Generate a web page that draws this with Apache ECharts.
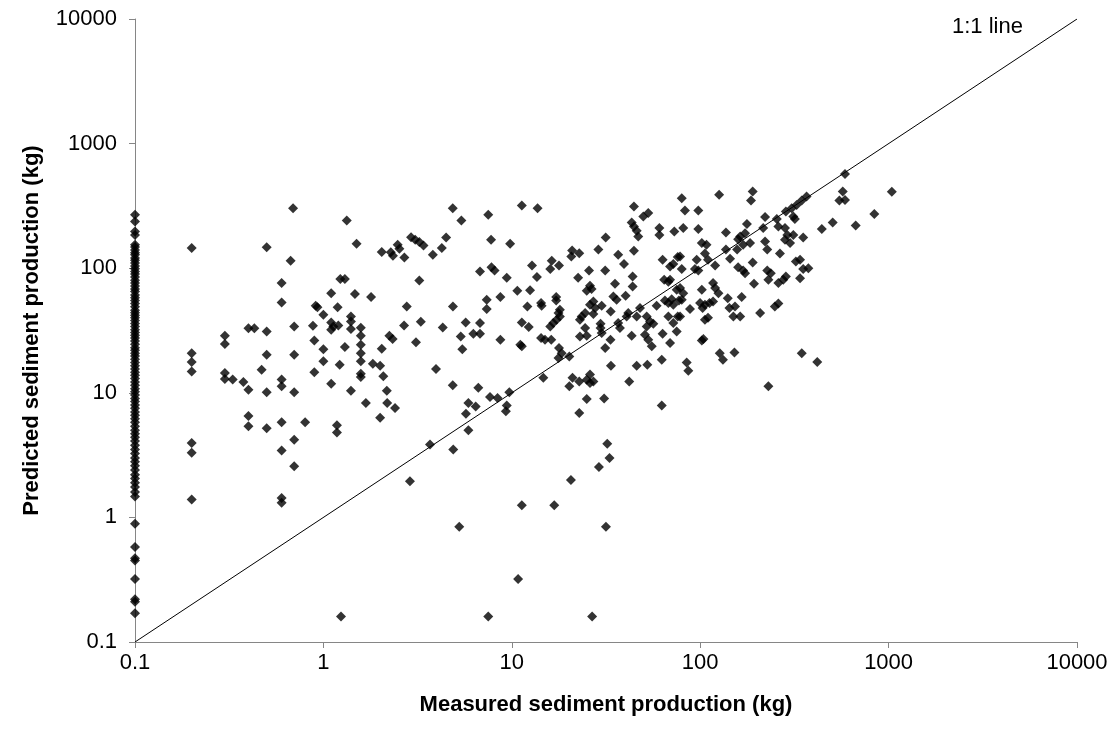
<!DOCTYPE html>
<html>
<head>
<meta charset="utf-8">
<title>Predicted vs measured sediment production</title>
<script src="https://cdn.jsdelivr.net/npm/echarts@6/dist/echarts.min.js"></script>
<style>
  html, body { margin: 0; padding: 0; background: #ffffff; }
  #chart { width: 1118px; height: 738px; }
</style>
</head>
<body>
<div id="chart"></div>
<script>
// Axis titles and decade ticks
const xTitle = 'Measured sediment production (kg)';
const yTitle = 'Predicted sediment production (kg)';
const decadeTicks = [0.1, 1, 10, 100, 1000, 10000];
const oneToOneLabel = '1:1 line';

// Plots with measured production recorded as 0.1 kg (no measurable sediment)
const zeroMeasured = 0.1;
const zeroPredicted = [268, 237, 197, 185, 154, 148, 140, 133, 128, 121, 116, 110, 104, 99, 94, 90, 85, 80,
  76, 72, 68, 65, 61, 58, 55, 52, 49, 46, 44, 42, 40, 38, 36, 34, 32, 30.5, 29, 27.5, 26, 24.5, 23, 22,
  20.8, 19.7, 18.6, 17.5, 16.5, 15.5, 14.6, 13.8, 13, 12.2, 11.5, 10.8, 10.2, 9.6, 9, 8.5, 8, 7.5, 7,
  6.6, 6.2, 5.8, 5.4, 5, 4.7, 4.4, 4.1, 3.8, 3.5, 3.25, 3, 2.8, 2.6, 2.4, 2.2, 2.05, 1.9, 1.75, 1.6,
  1.47, 0.89, 0.58, 0.47, 0.45, 0.32, 0.22, 0.21, 0.17];

// [measured, predicted] pairs, measured below 1 kg
const plotsUnder1 = [[0.69,303],[0.2,145],[0.5,147],[0.67,115],[0.6,76],[0.6,53],[0.40,33],[0.43,33],
  [0.5,31],[0.70,34],[0.3,28.7],[0.3,24.6],[0.2,20.8],[0.2,17.7],[0.2,14.8],[0.5,20.2],[0.70,20.2],
  [0.47,15.3],[0.3,14.4],[0.3,12.9],[0.33,12.8],[0.376,12.2],[0.40,10.6],[0.5,10.1],[0.6,12.8],
  [0.6,11.3],[0.70,10.1],[0.40,6.5],[0.40,5.4],[0.5,5.2],[0.6,5.8],[0.2,3.95],[0.2,3.3],[0.70,4.2],
  [0.6,3.45],[0.70,2.57],[0.2,1.39],[0.6,1.43],[0.6,1.31],[0.91,49.9],[0.93,48.7],[0.88,34.5],
  [0.895,26.3],[0.895,14.6],[0.80,5.8]];

// measured 1 to 10 kg
const plots1to10 = [[1.33,241],[4.86,303],[5.4,241],[1.50,157],[2.04,135],[2.28,134],[2.34,126],
  [2.48,154],[2.53,143],[2.69,122],[2.92,177],[3.07,169],[3.23,162],[3.40,152],[3.81,128],[4.25,145],
  [4.48,176],[1.23,81.8],[1.30,81.8],[3.23,79.6],[1.10,63],[1.47,62],[1.79,58.6],[1.19,48.7],
  [2.77,49.3],[1.0,42.3],[1.40,41],[1.40,37.3],[1.10,36.7],[1.13,34.1],[1.20,34.7],[1.10,32],
  [1.40,32.5],[1.58,33.2],[1.58,28.7],[2.24,28.7],[2.33,27],[2.68,34.7],[3.29,37.2],[4.30,33.4],
  [4.87,49.3],[5.69,36.7],[5.36,28.3],[6.25,29.8],[5.46,22.4],[1.0,22.4],[1.30,23.3],[2.04,22.6],
  [3.10,25.4],[1.0,17.9],[1.22,16.8],[1.58,17.9],[1.83,17.1],[2.0,16.5],[1.58,14.2],[1.58,13.4],
  [2.08,13.6],[1.10,11.8],[1.40,10.4],[2.17,10.4],[1.68,8.3],[2.18,8.3],[2.40,7.55],[2.0,6.3],
  [3.96,15.5],[4.86,11.5],[6.64,11.0],[5.88,8.3],[6.43,7.78],[5.71,6.8],[1.58,20.8],[1.58,24.3],
  [7.5,268],[7.76,169],[9.8,157],[6.78,94],[7.8,102],[8.1,96],[9.4,84],[7.36,55.8],[7.36,47],
  [8.7,58.6],[6.78,36.3],[6.78,29.8],[8.7,26.7],[7.66,9.25],[8.4,9.1],[9.7,10.1],[9.4,7.9],[9.3,7.1],
  [1.18,5.5],[1.18,4.8],[3.68,3.84],[4.89,3.5],[5.88,5.0],[2.88,1.95],[5.26,0.84],[1.24,0.16],
  [7.5,0.16]];

// measured 10 to 100 kg
const plots10to100 = [[11.3,318],[13.7,303],[10.7,66],[12.5,66.6],[12.8,105],[13.6,85],[16.3,115],
  [16.0,98.4],[17.8,105],[12.1,49.3],[14.3,52.5],[14.4,49.9],[17.2,58.6],[17.2,55],[18.0,46.4],
  [11.3,36.7],[12.3,33.7],[11.1,24.3],[11.3,23.6],[14.3,27.5],[15.0,26.7],[16.2,26.7],[16.0,34.1],
  [16.6,36.3],[17.3,38.5],[18.0,41],[17.7,43.6],[17.8,22.9],[18.4,20.8],[17.7,19.0],[20.2,19.6],
  [14.7,13.2],[20.9,139],[22.8,132],[20.7,124],[28.8,141],[31.5,176],[36.7,128],[39.4,108],
  [44.5,138],[44.5,313],[43.3,233],[44.5,216],[46,200],[46.9,180],[49.9,260],[53,277],[60.7,210],
  [60.7,185],[72.9,197],[25.7,96],[31.3,95.7],[22.5,84],[26.0,72.3],[25.0,66],[26.5,68],[35.3,75],
  [43.8,85.8],[43.8,71.3],[40.2,60],[34.6,59.3],[36,55.8],[27.1,54],[26,50.9],[27.7,47.9],[30,49.9],
  [33.5,45],[23.5,41],[24.5,43.6],[23,38.5],[27.1,42.9],[24.5,33.1],[29.6,35.8],[29.6,33.1],
  [30,30.2],[36.7,36.3],[37.5,33.1],[40.7,41],[41.5,43.6],[46,41],[47.9,47.9],[52,41],[54.2,37.3],
  [56.4,35.8],[52,34.1],[43.3,28.7],[50.9,29.2],[53,26.7],[55.3,23.6],[23,28.3],[25,28.7],
  [31.3,22.9],[33.4,26.7],[58.7,49.9],[65,55],[67.8,52.5],[70.6,56.4],[72,50.9],[77.1,55],
  [67.8,41],[72,36.3],[76,41],[63.2,117],[69.2,103],[72,108],[76,123],[67.8,78],[64.4,80.7],
  [69.2,80.7],[75,67],[63.2,29.8],[69.2,25.1],[75,31],[62.5,18.4],[46,16.5],[52.4,16.8],
  [33.6,16.5],[42,12.3],[20.2,11.3],[21,13.2],[22.8,12.3],[25,12.7],[26,14],[26,12],[27.1,12.3],
  [25,8.9],[30.9,9.0],[22.8,6.9],[62.5,7.9],[10.8,0.32],[11.3,1.25],[16.8,1.25],[20.6,2.0],
  [29,2.54],[32.1,3.9],[33,3.0],[31.6,0.84],[26.7,0.16],[79.8,365],[83,290],[97.7,290],[81.3,210],
  [97.7,206],[95.8,117],[93.8,98.4],[97.7,96],[78.2,124],[79.8,98.4],[78.2,69.2],[81.3,63],
  [79.8,55.8],[78.2,41],[99.8,52.5],[88.3,47],[84.8,17.5],[86.5,15]];

// measured 100 kg and above
const plotsOver100 = [[126,388],[190,412],[186,349],[137,193],[177,226],[173,191],[163,180],[184,159],
  [169,154],[159,171],[221,257],[216,210],[255,248],[260,216],[285,285],[306,303],[325,322],
  [346,349],[367,376],[312,260],[318,248],[282,210],[290,185],[312,185],[300,159],[282,169],
  [352,176],[265,131],[221,164],[227,141],[190,111],[159,102],[173,91],[169,96],[144,119],[137,141],
  [157,141],[120,105],[110,117],[106,131],[102,159],[108,154],[102,67],[117,76],[120,69.2],[125,63],
  [103,47.9],[106,50.9],[112,52.5],[117,54],[106,38.5],[110,40],[140,57.5],[143,47.9],[153,49.3],
  [150,41],[163,41],[166,58.6],[193,75],[208,43.6],[227,96],[237,91],[230,80.7],[260,76],[276,80.7],
  [285,85.8],[249,49.3],[260,52],[322,113],[339,117],[352,98.4],[375,100],[339,83],[442,206],
  [505,233],[669,220],[840,272],[1040,410],[571,412],[548,349],[587,353],[587,571],[102,26.3],
  [104,27],[127,20.8],[132,18.4],[152,21.1],[346,20.8],[418,17.7],[230,11.3]];

const zeroPlots = zeroPredicted.map(p => [zeroMeasured, p]);
const allPlots = zeroPlots.concat(plotsUnder1, plots1to10, plots10to100, plotsOver100);
const lineEnds = [[decadeTicks[0], decadeTicks[0]], [decadeTicks[5], decadeTicks[5]]];

const font = 'Liberation Sans, Arial, Helvetica, sans-serif';
const axisGray = '#868686';
const labelFmt = v => String(+Number(v).toPrecision(6));

function logAxis(extra) {
  return Object.assign({
    type: 'log',
    logBase: 10,
    min: decadeTicks[0],
    max: decadeTicks[decadeTicks.length - 1],
    splitNumber: 5,
    axisLine: { show: true, onZero: false, lineStyle: { color: axisGray, width: 1 } },
    axisTick: { show: true, inside: false, length: 6, lineStyle: { color: axisGray, width: 1 } },
    minorTick: { show: false },
    splitLine: { show: false },
    nameLocation: 'middle',
    nameTextStyle: { fontFamily: font, fontWeight: 'bold', fontSize: 22, color: '#000' }
  }, extra);
}

const chart = echarts.init(document.getElementById('chart'), null, { renderer: 'canvas' });
chart.setOption({
  animation: false,
  backgroundColor: '#ffffff',
  grid: { left: 135, right: 41, top: 19, bottom: 96, containLabel: false },
  xAxis: logAxis({
    name: xTitle,
    nameGap: 52,
    axisLabel: { fontFamily: font, fontSize: 22, color: '#000', margin: 10, formatter: labelFmt }
  }),
  yAxis: logAxis({
    name: yTitle,
    nameGap: 92,
    nameRotate: 90,
    axisLabel: { fontFamily: font, fontSize: 22, color: '#000', margin: 18, formatter: labelFmt }
  }),
  series: [
    {
      type: 'line',
      data: lineEnds,
      symbol: 'none',
      silent: true,
      z: 1,
      lineStyle: { color: '#000', width: 1 }
    },
    {
      type: 'scatter',
      data: allPlots,
      symbol: 'diamond',
      symbolSize: 10,
      clip: false,
      z: 2,
      itemStyle: { color: '#000' }
    }
  ],
  graphic: [
    {
      type: 'text',
      left: 952,
      top: 16,
      style: { text: oneToOneLabel, fontFamily: font, fontSize: 22, fill: '#000' }
    }
  ]
});
</script>
</body>
</html>
